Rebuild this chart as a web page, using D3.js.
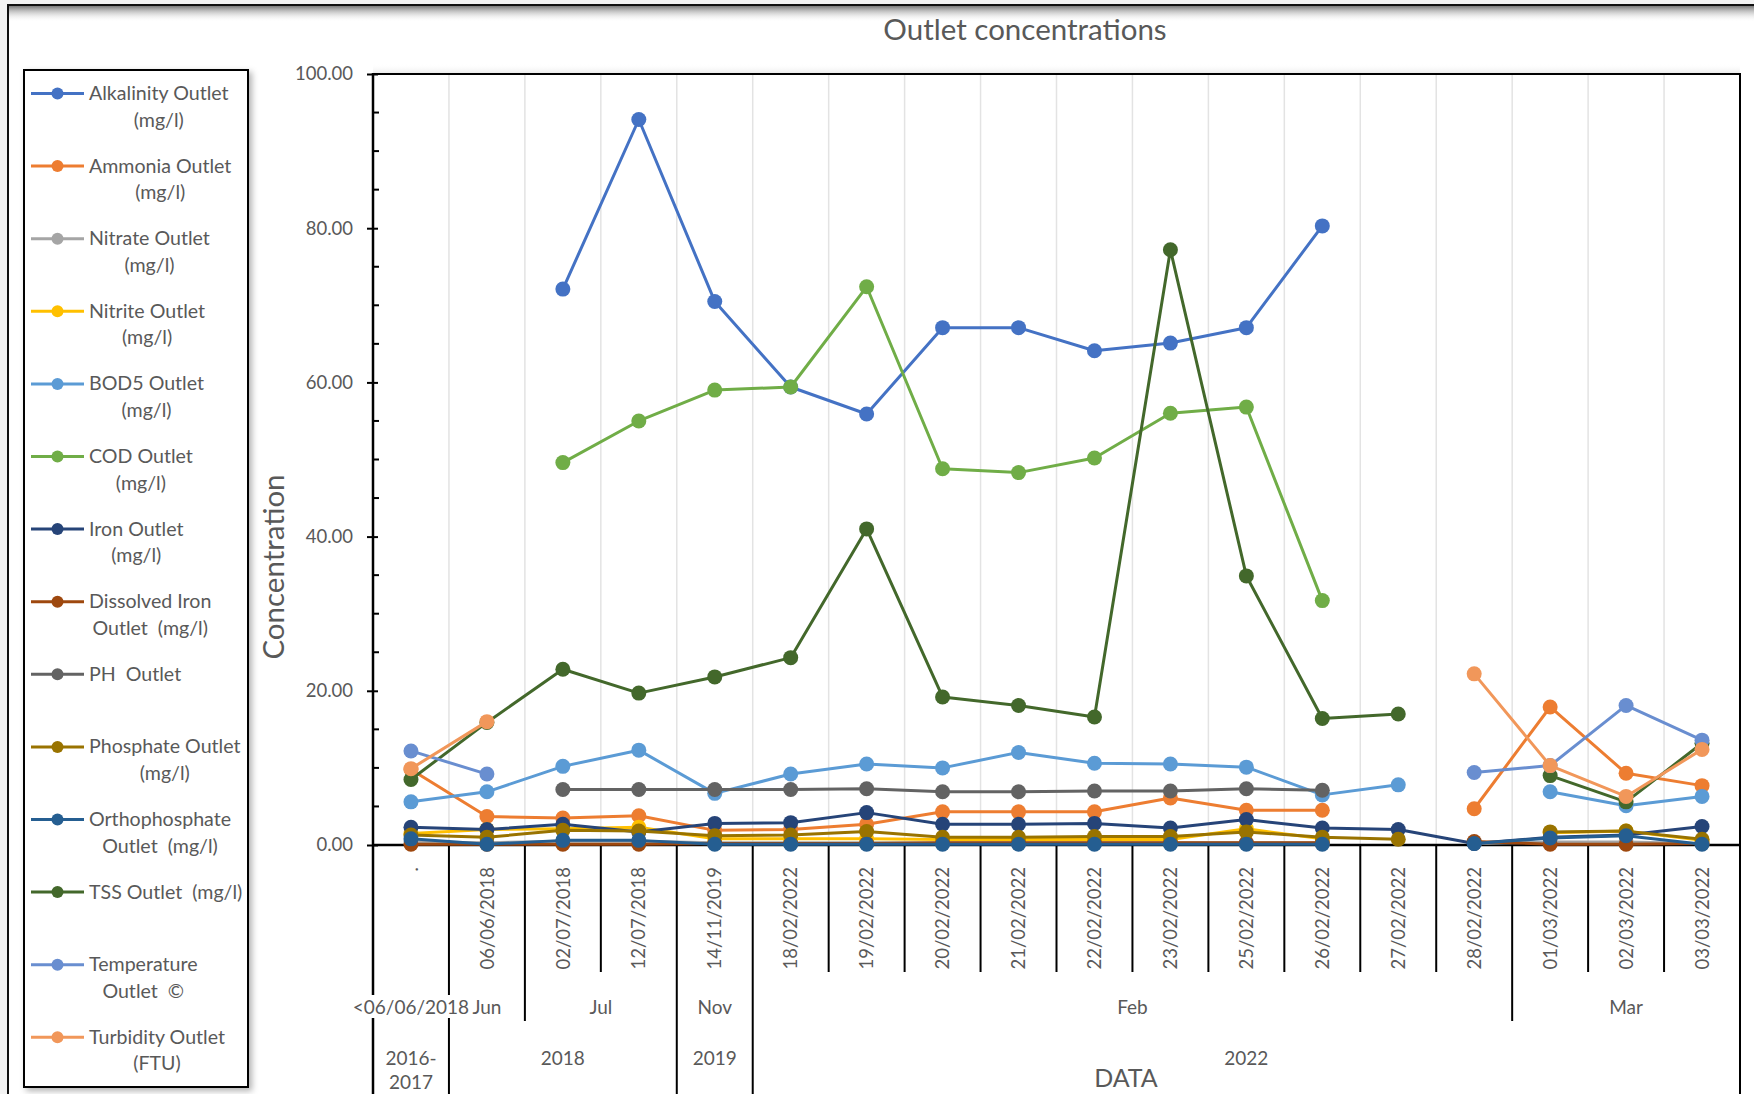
<!DOCTYPE html>
<html>
<head>
<meta charset="utf-8">
<script src="https://cdn.jsdelivr.net/npm/d3@7"></script>
<style>
  html, body { margin: 0; padding: 0; background: #f3f3f3; }
  svg { display: block; font-family: Lato, "Open Sans", sans-serif; }
  text { white-space: pre; }
</style>
</head>
<body>
<svg id="chart" width="1754" height="1094"></svg>
<script>
// ---- categories (sampling dates) and their grouping levels ----
const categories = [".", "06/06/2018", "02/07/2018", "12/07/2018", "14/11/2019",
  "18/02/2022", "19/02/2022", "20/02/2022", "21/02/2022", "22/02/2022", "23/02/2022",
  "25/02/2022", "26/02/2022", "27/02/2022", "28/02/2022", "01/03/2022", "02/03/2022", "03/03/2022"];
const monthOf = ["<06/06/2018", "Jun", "Jul", "Jul", "Nov",
  "Feb", "Feb", "Feb", "Feb", "Feb", "Feb", "Feb", "Feb", "Feb", "Feb", "Mar", "Mar", "Mar"];
const yearOf = ["2016-2017", "2018", "2018", "2018", "2019",
  "2022", "2022", "2022", "2022", "2022", "2022", "2022", "2022", "2022", "2022", "2022", "2022", "2022"];

// ---- measured outlet values (null = not sampled) ----
const alkalinity     = [null, null, 72.1, 94.1, 70.5, 59.4, 55.9, 67.1, 67.1, 64.1, 65.1, 67.1, 80.3, null, null, null, null, null];
const ammonia        = [9.8, 3.7, 3.5, 3.8, 1.9, 2.0, 2.7, 4.3, 4.3, 4.3, 6.1, 4.5, 4.5, null, 4.7, 17.9, 9.3, 7.7];
const nitrate        = [0.4, 0.3, 0.5, 0.5, 0.3, 0.3, 0.3, 0.3, 0.3, 0.3, 0.3, 0.3, 0.3, null, 0.2, 0.4, 0.4, 0.2];
const nitrite        = [1.5, 2.0, 2.1, 2.3, 0.8, 0.8, 0.8, 0.7, 0.7, 0.7, 0.7, 2.1, 0.8, null, null, 1.6, 1.8, 0.6];
const bod5           = [5.6, 6.9, 10.2, 12.3, 6.7, 9.2, 10.5, 10.0, 12.0, 10.6, 10.5, 10.1, 6.5, 7.8, null, 6.9, 5.1, 6.3];
const cod            = [null, null, 49.6, 55.0, 59.0, 59.4, 72.4, 48.8, 48.3, 50.2, 56.0, 56.8, 31.7, null, null, null, null, null];
const iron           = [2.3, 2.0, 2.7, 1.7, 2.8, 2.9, 4.2, 2.7, 2.7, 2.8, 2.2, 3.3, 2.2, 2.0, 0.2, 1.0, 1.3, 2.4];
const dissolvedIron  = [0.1, 0.1, 0.1, 0.1, 0.2, 0.2, 0.2, 0.3, 0.3, 0.3, 0.3, 0.3, 0.3, null, 0.45, 0.1, 0.1, 0.2];
const ph             = [null, null, 7.2, 7.2, 7.2, 7.2, 7.3, 6.9, 6.9, 7.0, 7.0, 7.3, 7.1, null, null, null, null, null];
const phosphate      = [1.3, 1.0, 1.9, 1.8, 1.2, 1.3, 1.75, 1.0, 1.0, 1.1, 1.1, 1.7, 1.0, 0.75, null, 1.7, 1.8, 0.75];
const orthophosphate = [0.8, 0.1, 0.6, 0.6, 0.1, 0.1, 0.1, 0.1, 0.1, 0.1, 0.1, 0.1, 0.1, null, 0.2, 0.9, 1.2, 0.1];
const tss            = [8.5, 15.9, 22.8, 19.7, 21.8, 24.3, 41.0, 19.2, 18.1, 16.6, 77.2, 34.9, 16.4, 17.0, null, 9.0, 5.6, 13.2];
const temperature    = [12.2, 9.2, null, null, null, null, null, null, null, null, null, null, null, null, 9.4, 10.3, 18.1, 13.6];
const turbidity      = [9.9, 16.0, null, null, null, null, null, null, null, null, null, null, null, null, 22.2, 10.3, 6.3, 12.4];

const seriesNames = ["Alkalinity Outlet\n(mg/l)", "Ammonia Outlet\n(mg/l)", "Nitrate Outlet\n(mg/l)",
  "Nitrite Outlet\n(mg/l)", "BOD5 Outlet\n(mg/l)", "COD Outlet\n(mg/l)", "Iron Outlet\n(mg/l)",
  "Dissolved Iron\nOutlet  (mg/l)", "PH  Outlet", "Phosphate Outlet\n(mg/l)", "Orthophosphate\nOutlet  (mg/l)",
  "TSS Outlet  (mg/l)", "Temperature\nOutlet  \u00A9", "Turbidity Outlet\n(FTU)"];
const seriesValues = [alkalinity, ammonia, nitrate, nitrite, bod5, cod, iron, dissolvedIron,
  ph, phosphate, orthophosphate, tss, temperature, turbidity];
const seriesColors = ["#4472C4", "#ED7D31", "#A5A5A5", "#FFC000", "#5B9BD5", "#70AD47", "#264478",
  "#9E480E", "#636363", "#997300", "#255E91", "#43682B", "#698ED0", "#F1975A"];

const yTicks = [0, 20, 40, 60, 80, 100];
const yMinorStep = 5;

// ---- layout ----
const W = 1754, H = 1094;
const plot = { left: 373, right: 1740, top: 74, bottom: 845 };
const textColor = "#595959";

const svg = d3.select("#chart");
const defs = svg.append("defs");

const topShade = defs.append("linearGradient").attr("id", "topShade").attr("x1", 0).attr("y1", 0).attr("x2", 0).attr("y2", 1);
topShade.append("stop").attr("offset", "0%").attr("stop-color", "#7a7a7a");
topShade.append("stop").attr("offset", "100%").attr("stop-color", "#ffffff").attr("stop-opacity", 0);

const legendShadow = defs.append("filter").attr("id", "legendShadow")
  .attr("x", "-10%").attr("y", "-10%").attr("width", "130%").attr("height", "130%");
legendShadow.append("feDropShadow").attr("dx", 3).attr("dy", 3).attr("stdDeviation", 3)
  .attr("flood-color", "#000").attr("flood-opacity", 0.3);

// chart frame
svg.append("rect").attr("x", 8).attr("y", 5).attr("width", W + 20).attr("height", H + 20)
  .attr("fill", "#fff").attr("stroke", "#111").attr("stroke-width", 2);
svg.append("rect").attr("x", 9).attr("y", 6).attr("width", W).attr("height", 16)
  .attr("fill", "url(#topShade)");
// soft shade above plot area
svg.append("rect").attr("x", plot.left).attr("y", plot.top - 10).attr("width", plot.right - plot.left).attr("height", 10)
  .attr("fill", "url(#topShade)").attr("opacity", 0.18).attr("transform", `rotate(180 ${(plot.left + plot.right) / 2} ${plot.top - 5})`);

// ---- scales ----
const x = d3.scaleBand().domain(d3.range(categories.length)).range([plot.left, plot.right]).padding(0);
const y = d3.scaleLinear().domain([0, 100]).range([plot.bottom, plot.top]);
const bw = x.bandwidth();
const cx = i => x(i) + bw / 2;

// vertical gridlines at category boundaries
const g = svg.append("g");
g.selectAll("line.grid").data(d3.range(1, categories.length)).join("line")
  .attr("x1", i => x(i)).attr("x2", i => x(i))
  .attr("y1", plot.top).attr("y2", plot.bottom)
  .attr("stroke", "#e3e3e3").attr("stroke-width", 1.5);

// ---- y axis ----
const yAxis = d3.axisLeft(y).tickValues(yTicks).tickFormat(d3.format(".2f")).tickSizeInner(6).tickSizeOuter(0).tickPadding(14);
const yAxisG = svg.append("g").attr("transform", `translate(${plot.left},0)`).call(yAxis);
yAxisG.select(".domain").remove();
yAxisG.selectAll(".tick line").attr("stroke", "#000").attr("stroke-width", 2).attr("x2", -6).attr("x1", 5);
yAxisG.selectAll(".tick text").attr("fill", textColor).attr("font-size", 18.5).attr("font-family", "Lato");
const minorVals = d3.range(0, 100 + 1e-9, yMinorStep).filter(v => !yTicks.includes(v));
svg.append("g").selectAll("line").data(minorVals).join("line")
  .attr("x1", plot.left).attr("x2", plot.left + 6)
  .attr("y1", d => y(d)).attr("y2", d => y(d))
  .attr("stroke", "#000").attr("stroke-width", 2);

// ---- category axis separators (multi-level) ----
const levelBottom = { 1: 972, 2: 1021, 3: H };
const boundaries = d3.range(1, categories.length).map(i => {
  let level = 1;
  if (yearOf[i] !== yearOf[i - 1]) level = 3;
  else if (monthOf[i] !== monthOf[i - 1]) level = 2;
  return { i, level };
});
svg.append("g").selectAll("line").data(boundaries).join("line")
  .attr("x1", d => x(d.i)).attr("x2", d => x(d.i))
  .attr("y1", plot.bottom).attr("y2", d => levelBottom[d.level])
  .attr("stroke", "#000").attr("stroke-width", 2);

// plot frame: left axis, top, right, baseline
svg.append("line").attr("x1", plot.left).attr("x2", plot.left).attr("y1", plot.top - 1).attr("y2", H)
  .attr("stroke", "#000").attr("stroke-width", 2.5);
svg.append("line").attr("x1", plot.right).attr("x2", plot.right).attr("y1", plot.top - 1).attr("y2", H)
  .attr("stroke", "#000").attr("stroke-width", 2);
svg.append("line").attr("x1", plot.left).attr("x2", plot.right).attr("y1", plot.top).attr("y2", plot.top)
  .attr("stroke", "#000").attr("stroke-width", 2);
svg.append("line").attr("x1", plot.left).attr("x2", plot.right).attr("y1", plot.bottom).attr("y2", plot.bottom)
  .attr("stroke", "#000").attr("stroke-width", 2.5);

// date labels (level 1)
svg.append("g").selectAll("text").data(categories).join("text")
  .attr("transform", (d, i) => `translate(${cx(i)},${plot.bottom + 22}) rotate(-90)`)
  .attr("text-anchor", "end").attr("dy", "0.36em")
  .attr("fill", textColor).attr("font-size", 18.5)
  .text(d => d);

// grouped labels (levels 2 and 3)
function runs(arr) {
  const out = [];
  arr.forEach((v, i) => {
    const last = out[out.length - 1];
    if (last && last.label === v) last.end = i;
    else out.push({ label: v, start: i, end: i });
  });
  return out;
}
const monthG = svg.append("g");
runs(monthOf).forEach(r => {
  const mx = (x(r.start) + x(r.end) + bw) / 2;
  const t = monthG.append("text").attr("x", mx).attr("y", 1014).attr("text-anchor", "middle")
    .attr("fill", textColor).attr("font-size", 19).text(r.label);
  const span = (r.end - r.start + 1) * bw;
  const bb = t.node().getBBox();
  if (bb.width > span - 4) {
    monthG.insert("rect", "text").attr("x", bb.x - 1).attr("y", bb.y).attr("width", bb.width + 2).attr("height", bb.height)
      .attr("fill", "#fff");
  }
});
const yearG = svg.append("g");
runs(yearOf).forEach(r => {
  const yx = (x(r.start) + x(r.end) + bw) / 2;
  const span = (r.end - r.start + 1) * bw;
  const t = yearG.append("text").attr("x", yx).attr("y", 1065).attr("text-anchor", "middle")
    .attr("fill", textColor).attr("font-size", 19).text(r.label);
  if (t.node().getComputedTextLength() > span - 6 && r.label.includes("-")) {
    const k = r.label.indexOf("-") + 1;
    t.text(null);
    t.append("tspan").attr("x", yx).attr("dy", 0).text(r.label.slice(0, k));
    t.append("tspan").attr("x", yx).attr("dy", 24).text(r.label.slice(k));
  }
});

// axis titles and chart title
svg.append("text").attr("x", 1025).attr("y", 40).attr("text-anchor", "middle")
  .attr("fill", textColor).attr("font-size", 29.5).text("Outlet concentrations");
svg.append("text").attr("transform", `translate(284,567) rotate(-90)`).attr("text-anchor", "middle")
  .attr("fill", textColor).attr("font-size", 29.5).text("Concentration");
svg.append("text").attr("x", 1126).attr("y", 1087).attr("text-anchor", "middle")
  .attr("fill", textColor).attr("font-size", 25).text("DATA");

// ---- series ----
const line = d3.line().defined(d => d.v !== null).x(d => cx(d.i)).y(d => y(d.v));
const seriesG = svg.append("g");
seriesValues.forEach((vals, s) => {
  const pts = vals.map((v, i) => ({ i, v }));
  const sg = seriesG.append("g");
  sg.append("path").datum(pts).attr("d", line)
    .attr("fill", "none").attr("stroke", seriesColors[s]).attr("stroke-width", 3)
    .attr("stroke-linejoin", "round");
  sg.selectAll("circle").data(pts.filter(d => d.v !== null)).join("circle")
    .attr("cx", d => cx(d.i)).attr("cy", d => y(d.v)).attr("r", 7.5)
    .attr("fill", seriesColors[s]);
});

// ---- legend ----
const legend = svg.append("g");
legend.append("rect").attr("x", 24).attr("y", 70).attr("width", 224).attr("height", 1017)
  .attr("fill", "#fff").attr("stroke", "#000").attr("stroke-width", 2).attr("filter", "url(#legendShadow)");
seriesNames.forEach((name, s) => {
  const base = 100 + s * 72.6;
  const item = legend.append("g");
  item.append("line").attr("x1", 31).attr("x2", 84).attr("y1", base - 6.5).attr("y2", base - 6.5)
    .attr("stroke", seriesColors[s]).attr("stroke-width", 3);
  item.append("circle").attr("cx", 57.5).attr("cy", base - 6.5).attr("r", 6).attr("fill", seriesColors[s]);
  const lines = name.split("\n");
  const t = item.append("text").attr("text-anchor", "middle").attr("fill", textColor).attr("font-size", 19.6);
  const spans = lines.map((ln, k) => t.append("tspan").attr("y", base + k * 26.5).text(ln));
  const maxW = d3.max(spans, sp => sp.node().getComputedTextLength());
  spans.forEach(sp => sp.attr("x", 89 + maxW / 2));
});
</script>
</body>
</html>
